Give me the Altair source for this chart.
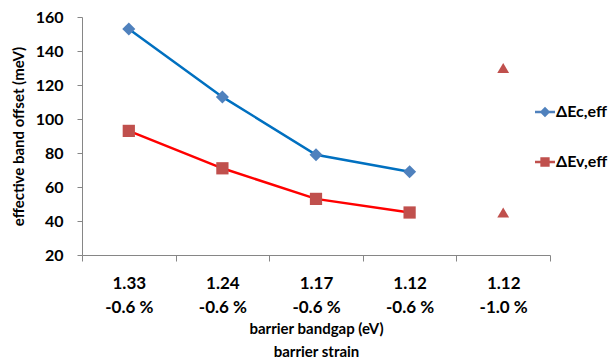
import altair as alt
import pandas as pd

# Barrier configurations along the x axis
bandgap = ["1.33", "1.24", "1.17", "1.12", "1.12"]
strain = ["-0.6 %", "-0.6 %", "-0.6 %", "-0.6 %", "-1.0 %"]

# Effective band offsets (meV) at -0.6 % strain
series_names = ["ΔEc,eff", "ΔEv,eff"]
dEc = [153, 113, 79, 69]
dEv = [93, 71, 53, 45]

# Offsets for the -1.0 % strained barrier
dEc_strained = 130
dEv_strained = 45

categories = [f"{g}|{s}" for g, s in zip(bandgap, strain)]

rows = []
for name, vals in zip(series_names, [dEc, dEv]):
    for cat, v in zip(categories[:4], vals):
        rows.append({"cat": cat, "series": name, "offset": v})
df = pd.DataFrame(rows)

df_strained = pd.DataFrame({
    "cat": [categories[4], categories[4]],
    "offset": [dEc_strained, dEv_strained],
})

line_colors = ["#0070C0", "#FF0000"]
marker_colors = ["#4F81BD", "#C0504D"]
FONT = "Lato"

x_enc = alt.X(
    "cat:N",
    scale=alt.Scale(domain=categories, paddingInner=0, paddingOuter=0),
    axis=alt.Axis(
        title=["barrier bandgap (eV)", "barrier strain"],
        labelExpr="datum.value ? split(datum.value, '|') : ''",
        labelAngle=0,
        labelFontSize=17,
        labelFontWeight="bold",
        labelLineHeight=24,
        labelPadding=14,
        labelBaseline="top",
        tickBand="extent",
        tickSize=6,
        titleFontSize=15,
        titleFontWeight="bold",
        titleLineHeight=23,
        titlePadding=6,
    ),
)
y_enc = alt.Y(
    "offset:Q",
    scale=alt.Scale(domain=[20, 160], nice=False, zero=False),
    axis=alt.Axis(
        title="effective band offset (meV)",
        values=[20, 40, 60, 80, 100, 120, 140, 160],
        labelFontSize=16,
        labelFontWeight="bold",
        labelPadding=14,
        tickSize=5,
        titleFontSize=15,
        titleFontWeight="bold",
        titleX=-64,
        titleY=119,
        titleAlign="center",
        titleBaseline="middle",
        titleAngle=-90,
    ),
)

# Legend symbols: a short line segment with the series marker on it
ec_path = "M-2,-0.25H2V0.25H-2Z M0,-1.05L1.05,0L0,1.05L-1.05,0Z"
ev_path = "M-2,-0.25H2V0.25H-2Z M-0.93,-0.93H0.93V0.93H-0.93Z"

legend = alt.Legend(
    title=None,
    orient="none",
    legendX=455,
    legendY=87,
    padding=0,
    symbolSize=100,
    symbolOpacity=1,
    symbolStrokeWidth=0,
    labelFontSize=16,
    labelFontWeight="bold",
    labelColor="black",
    labelOffset=3,
    rowPadding=34,
)

# One connecting line per series
line_layers = [
    alt.Chart(df).transform_filter(alt.datum.series == name)
    .mark_line(strokeWidth=2.5, color=col)
    .encode(x=x_enc, y=y_enc)
    for name, col in zip(series_names, line_colors)
]

# Invisible layer that carries the legend
legend_layer = alt.Chart(df).mark_point(filled=True, opacity=0).encode(
    x=x_enc,
    y=y_enc,
    shape=alt.Shape("series:N", scale=alt.Scale(domain=series_names, range=[ec_path, ev_path]), legend=legend),
    fill=alt.Fill("series:N", scale=alt.Scale(domain=series_names, range=marker_colors), legend=legend),
)

ec_points = alt.Chart(df).transform_filter(
    alt.datum.series == series_names[0]
).mark_point(shape="diamond", filled=True, size=170, opacity=1, color=marker_colors[0]).encode(
    x=x_enc, y=y_enc
)

ev_points = alt.Chart(df).transform_filter(
    alt.datum.series == series_names[1]
).mark_point(shape="square", filled=True, size=150, opacity=1, color=marker_colors[1]).encode(
    x=x_enc, y=y_enc
)

strained_points = alt.Chart(df_strained).mark_point(
    shape="triangle-up", filled=True, size=140, opacity=1, color=marker_colors[1]
).encode(x=x_enc, y=y_enc)

chart = alt.layer(*line_layers, legend_layer, ec_points, ev_points, strained_points).properties(
    width=468,
    height=238,
    autosize=alt.AutoSizeParams(type="none"),
    padding={"left": 82, "top": 17, "right": 59, "bottom": 103},
    background="white",
).configure_view(
    stroke=None
).configure_axis(
    grid=False,
    labelFont=FONT,
    titleFont=FONT,
    labelColor="black",
    titleColor="black",
    domainColor="#868686",
    tickColor="#868686",
    domainWidth=1,
    tickWidth=1,
).configure_legend(
    labelFont=FONT,
)

chart.save("out.html", embed_options={"renderer": "svg", "actions": False})
